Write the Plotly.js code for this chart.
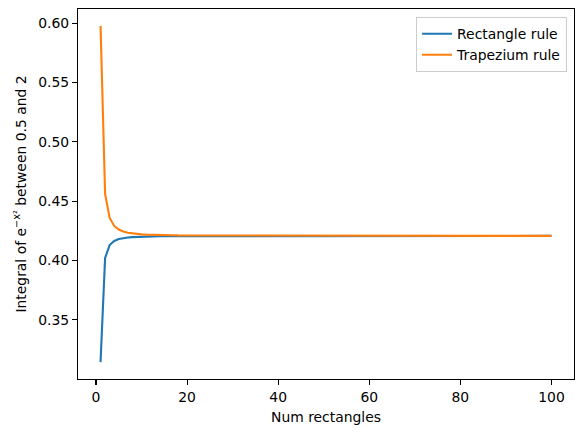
<!DOCTYPE html>
<html>
<head>
<meta charset="utf-8">
<script src="https://cdn.plot.ly/plotly-3.0.1.min.js"></script>
<style>
  html, body { margin: 0; padding: 0; background: #fff; }
  #chart { width: 583px; height: 432px; }
</style>
</head>
<body>
<div id="chart"></div>
<script>
// number of rectangles (x axis)
const numRects = [
  1, 2, 3, 4, 5, 6, 7, 8, 9, 10, 11, 12, 13, 14, 15, 16, 17, 18, 19, 20,
  21, 22, 23, 24, 25, 26, 27, 28, 29, 30, 31, 32, 33, 34, 35, 36, 37, 38, 39, 40,
  41, 42, 43, 44, 45, 46, 47, 48, 49, 50, 51, 52, 53, 54, 55, 56, 57, 58, 59, 60,
  61, 62, 63, 64, 65, 66, 67, 68, 69, 70, 71, 72, 73, 74, 75, 76, 77, 78, 79, 80,
  81, 82, 83, 84, 85, 86, 87, 88, 89, 90, 91, 92, 93, 94, 95, 96, 97, 98, 99, 100
];

const rectangleRule = [
  0.3144, 0.4022, 0.4131, 0.4165, 0.4181, 0.4190, 0.4195, 0.4198, 0.4200, 0.4201,
  0.4203, 0.4203, 0.4204, 0.4205, 0.4205, 0.4205, 0.4206, 0.4206, 0.4206, 0.4206,
  0.4207, 0.4207, 0.4207, 0.4207, 0.4207, 0.4207, 0.4207, 0.4207, 0.4207, 0.4207,
  0.4208, 0.4208, 0.4208, 0.4208, 0.4208, 0.4208, 0.4208, 0.4208, 0.4208, 0.4208,
  0.4208, 0.4208, 0.4208, 0.4208, 0.4208, 0.4208, 0.4208, 0.4208, 0.4208, 0.4208,
  0.4208, 0.4208, 0.4208, 0.4208, 0.4208, 0.4208, 0.4208, 0.4208, 0.4208, 0.4208,
  0.4208, 0.4208, 0.4208, 0.4208, 0.4208, 0.4208, 0.4208, 0.4208, 0.4208, 0.4208,
  0.4208, 0.4208, 0.4208, 0.4208, 0.4208, 0.4208, 0.4208, 0.4208, 0.4208, 0.4208,
  0.4208, 0.4208, 0.4208, 0.4208, 0.4208, 0.4208, 0.4208, 0.4208, 0.4208, 0.4208,
  0.4208, 0.4208, 0.4208, 0.4208, 0.4208, 0.4208, 0.4208, 0.4208, 0.4208, 0.4208
];

const trapeziumRule = [
  0.5978, 0.4561, 0.4359, 0.4292, 0.4262, 0.4245, 0.4235, 0.4229, 0.4224, 0.4221,
  0.4219, 0.4217, 0.4216, 0.4215, 0.4214, 0.4213, 0.4213, 0.4212, 0.4212, 0.4211,
  0.4211, 0.4211, 0.4210, 0.4210, 0.4210, 0.4210, 0.4210, 0.4210, 0.4210, 0.4209,
  0.4209, 0.4209, 0.4209, 0.4209, 0.4209, 0.4209, 0.4209, 0.4209, 0.4209, 0.4209,
  0.4209, 0.4209, 0.4209, 0.4209, 0.4209, 0.4208, 0.4208, 0.4208, 0.4208, 0.4208,
  0.4208, 0.4208, 0.4208, 0.4208, 0.4208, 0.4208, 0.4208, 0.4208, 0.4208, 0.4208,
  0.4208, 0.4208, 0.4208, 0.4208, 0.4208, 0.4208, 0.4208, 0.4208, 0.4208, 0.4208,
  0.4208, 0.4208, 0.4208, 0.4208, 0.4208, 0.4208, 0.4208, 0.4208, 0.4208, 0.4208,
  0.4208, 0.4208, 0.4208, 0.4208, 0.4208, 0.4208, 0.4208, 0.4208, 0.4208, 0.4208,
  0.4208, 0.4208, 0.4208, 0.4208, 0.4208, 0.4208, 0.4208, 0.4208, 0.4208, 0.4208
];

const xTicks = [0, 20, 40, 60, 80, 100];
const yTicks = [0.35, 0.40, 0.45, 0.50, 0.55, 0.60];

const font = { family: 'DejaVu Sans, sans-serif', size: 13.9, color: '#000' };

const traces = [
  {
    x: numRects, y: rectangleRule, type: 'scatter', mode: 'lines', name: 'Rectangle rule',
    line: { color: '#1f77b4', width: 2.1 }
  },
  {
    x: numRects, y: trapeziumRule, type: 'scatter', mode: 'lines', name: 'Trapezium rule',
    line: { color: '#ff7f0e', width: 2.1 }
  }
];

const axisBase = {
  showgrid: false, zeroline: false,
  showline: true, mirror: true, linecolor: '#000', linewidth: 1.1,
  ticks: 'outside', ticklen: 4.9, tickwidth: 1.1, tickcolor: '#000',
  tickfont: font
};

Plotly.newPlot('chart', traces, {
  width: 583, height: 432,
  paper_bgcolor: '#fff', plot_bgcolor: '#fff',
  margin: { l: 78, r: 9, t: 9, b: 53 },
  font: font,
  xaxis: Object.assign({}, axisBase, {
    range: [-3.95, 104.95],
    tickvals: xTicks, ticktext: xTicks.map(String),
    title: { text: 'Num rectangles', font: font, standoff: 8 }
  }),
  yaxis: Object.assign({}, axisBase, {
    range: [0.3002, 0.6120],
    tickvals: yTicks, ticktext: yTicks.map(v => v.toFixed(2)),
    title: { text: 'Integral of e<sup>\u2212x\u00b2</sup> between 0.5 and 2', font: font, standoff: 8 }
  }),
  showlegend: true,
  legend: {
    x: 0.986, y: 0.978, xanchor: 'right', yanchor: 'top',
    bgcolor: 'rgba(255,255,255,0.8)', bordercolor: '#cccccc', borderwidth: 1,
    font: font, tracegroupgap: 0
  }
}, { displayModeBar: false, staticPlot: true });
</script>
</body>
</html>
